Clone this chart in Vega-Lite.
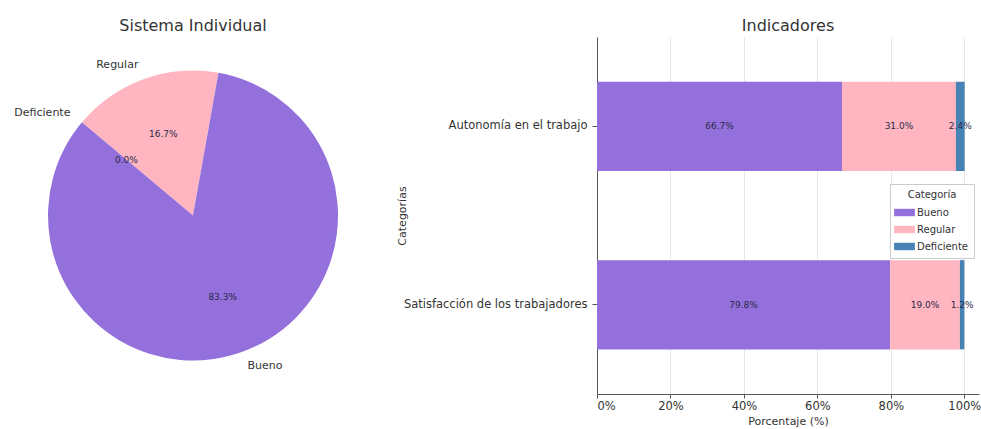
{
  "$schema": "https://vega.github.io/schema/vega-lite/v6.json",
  "background": "white",
  "padding": {"left": 5, "top": 18, "right": 0, "bottom": 0},
  "config": {
    "font": "DejaVu Sans",
    "view": {"stroke": null},
    "title": {"fontSize": 16, "fontWeight": "normal", "color": "#333", "font": "DejaVu Sans", "offset": 3},
    "concat": {"spacing": 15}
  },
  "resolve": {"scale": {"color": "independent"}, "legend": {"color": "independent"}},
  "datasets": {
    "pie": [
      {"categoria": "Regular", "valor": 16.7, "orden": 1},
      {"categoria": "Bueno", "valor": 83.3, "orden": 2},
      {"categoria": "Deficiente", "valor": 0.0, "orden": 3}
    ],
    "barras": [
      {"indicador": "Autonomía en el trabajo", "categoria": "Bueno", "valor": 66.7, "orden": 1},
      {"indicador": "Autonomía en el trabajo", "categoria": "Regular", "valor": 31.0, "orden": 2},
      {"indicador": "Autonomía en el trabajo", "categoria": "Deficiente", "valor": 2.4, "orden": 3},
      {"indicador": "Satisfacción de los trabajadores", "categoria": "Bueno", "valor": 79.8, "orden": 1},
      {"indicador": "Satisfacción de los trabajadores", "categoria": "Regular", "valor": 19.0, "orden": 2},
      {"indicador": "Satisfacción de los trabajadores", "categoria": "Deficiente", "valor": 1.2, "orden": 3}
    ]
  },
  "hconcat": [
    {
      "title": {"text": "Sistema Individual"},
      "width": 376,
      "height": 357,
      "data": {"name": "pie"},
      "transform": [
        {"stack": "valor", "groupby": [], "sort": [{"field": "orden"}], "as": ["ini", "fin"]},
        {"calculate": "(datum.ini + datum.fin) / 2", "as": "medio"},
        {"calculate": "format(datum.valor, '.1f') + '%'", "as": "etiqueta"}
      ],
      "layer": [
        {
          "mark": {"type": "arc", "outerRadius": 145, "stroke": null},
          "encoding": {
            "theta": {"field": "ini", "type": "quantitative", "scale": {"domain": [0, 100], "range": [-0.8727, 5.4105]}},
            "theta2": {"field": "fin"},
            "color": {"field": "categoria", "type": "nominal", "scale": {"domain": ["Bueno", "Regular", "Deficiente"], "range": ["#9370DB", "#FFB6C1", "#4682B4"]}, "legend": null}
          }
        },
        {
          "mark": {"type": "text", "radius": 87, "fontSize": 9, "color": "#2b2b4a"},
          "encoding": {
            "theta": {"field": "medio", "type": "quantitative", "scale": {"domain": [0, 100], "range": [-0.8727, 5.4105]}},
            "text": {"field": "etiqueta"}
          }
        },
        {
          "transform": [{"filter": "datum.categoria === 'Bueno'"}],
          "mark": {"type": "text", "radius": 160, "fontSize": 11, "color": "#333", "align": "left"},
          "encoding": {
            "theta": {"field": "medio", "type": "quantitative", "scale": {"domain": [0, 100], "range": [-0.8727, 5.4105]}},
            "text": {"field": "categoria"}
          }
        },
        {
          "transform": [{"filter": "datum.categoria !== 'Bueno'"}],
          "mark": {"type": "text", "radius": 160, "fontSize": 11, "color": "#333", "align": "right"},
          "encoding": {
            "theta": {"field": "medio", "type": "quantitative", "scale": {"domain": [0, 100], "range": [-0.8727, 5.4105]}},
            "text": {"field": "categoria"}
          }
        }
      ]
    },
    {
      "title": {"text": "Indicadores"},
      "width": 382,
      "height": 357,
      "data": {"name": "barras"},
      "transform": [
        {"stack": "valor", "groupby": ["indicador"], "sort": [{"field": "orden"}], "as": ["ini", "fin"]},
        {"calculate": "(datum.ini + datum.fin) / 2", "as": "medio"},
        {"calculate": "format(datum.valor, '.1f') + '%'", "as": "etiqueta"}
      ],
      "encoding": {
        "y": {
          "field": "indicador", "type": "nominal",
          "sort": ["Autonomía en el trabajo", "Satisfacción de los trabajadores"],
          "scale": {"paddingInner": 0.5, "paddingOuter": 0.25},
          "title": "Categorías",
          "axis": {"labelFontSize": 11.5, "labelLimit": 400, "labelColor": "#333", "titleFontSize": 11, "titleFontWeight": "normal", "titleColor": "#333", "domainColor": "#555", "tickColor": "#555", "tickSize": 5, "labelPadding": 5, "titlePadding": -4, "grid": false}
        }
      },
      "layer": [
        {
          "mark": {"type": "bar"},
          "encoding": {
            "x": {
              "field": "ini", "type": "quantitative",
              "scale": {"domain": [0, 104], "nice": false},
              "title": "Porcentaje (%)",
              "axis": {"values": [0, 20, 40, 60, 80, 100], "labelExpr": "datum.value + '%'", "labelFontSize": 11.5, "labelColor": "#333", "titleFontSize": 11, "titleFontWeight": "normal", "titleColor": "#333", "domainColor": "#555", "tickColor": "#555", "tickSize": 4, "grid": true, "gridColor": "#e6e6e6", "labelPadding": 2, "titlePadding": 4}
            },
            "x2": {"field": "fin"},
            "color": {
              "field": "categoria", "type": "nominal",
              "scale": {"domain": ["Bueno", "Regular", "Deficiente"], "range": ["#9370DB", "#FFB6C1", "#4682B4"]},
              "title": "Categoría",
              "legend": {"orient": "none", "legendX": 293, "legendY": 147, "symbolType": "M-1.4,-0.5H1.4V0.5H-1.4Z", "symbolSize": 220, "labelFontSize": 10, "titleFontSize": 10, "titleFontWeight": "normal", "titleColor": "#333", "labelColor": "#333", "fillColor": "white", "strokeColor": "#ccc", "padding": 6, "titleAlign": "center", "titleAnchor": "middle", "rowPadding": 3, "titlePadding": 4}
            }
          }
        },
        {
          "mark": {"type": "text", "fontSize": 9, "color": "#2b2b4a"},
          "encoding": {
            "x": {"field": "medio", "type": "quantitative"},
            "text": {"field": "etiqueta"}
          }
        }
      ]
    }
  ]
}
